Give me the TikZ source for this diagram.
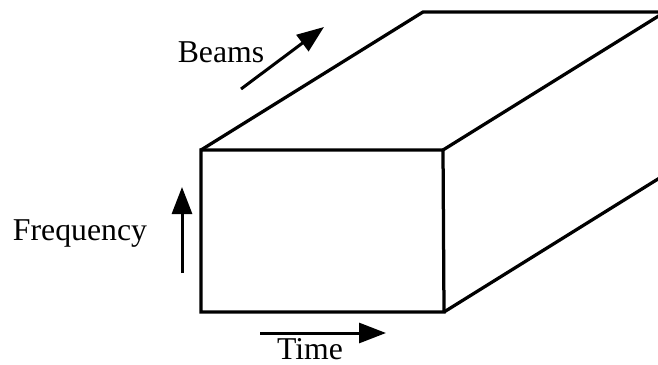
\documentclass[tikz,border=0pt]{standalone}
\usepackage{fontspec}
\setmainfont{Liberation Serif}
\usepackage{tikz}
\usetikzlibrary{arrows.meta, calc}

\begin{document}
\begin{tikzpicture}[
  x=0.4pt, y=-0.4pt,
  edge/.style={line width=1.3pt, line join=miter},
  axis/.style={line width=1.2pt, -{Triangle[length=10.8pt, width=8pt]}},
  lbl/.style={font=\fontsize{12.7}{15}\selectfont, inner sep=0pt, anchor=base}
]
  \useasboundingbox (0,0) rectangle (658,365);

  % --- Box corners ---
  \coordinate (ftl) at (201,150);
  \coordinate (ftr) at (443,150);
  \coordinate (fbr) at (444,312);
  \coordinate (fbl) at (201,312);
  \coordinate (btl) at ($(ftl)+(222,-138)$);
  \coordinate (btr) at ($(ftr)+(222,-138)$);
  \coordinate (bbr) at ($(fbr)+(222,-138)$);

  % --- Box ---
  \begin{scope}
    \clip (0,0) rectangle (658,365);
    \draw[edge] (ftl) -- (ftr) -- (fbr) -- (fbl) -- cycle;
    \draw[edge] (ftl) -- (btl) -- (btr) -- (ftr);
    \draw[edge] (fbr) -- (bbr) -- (btr);
  \end{scope}

  % --- Labels ---
  \node[lbl] (beams) at (221,63) {Beams};
  \node[lbl] (freq) at (80,240) {Frequency};
  \node[lbl] (time) at (310,359) {Time};

  % --- Axis arrows ---
  \coordinate (b0) at (241,89);
  \coordinate (b1) at (324,27);
  \coordinate (f0) at (182,273);
  \coordinate (f1) at (182,187);
  \coordinate (t0) at (260,333);
  \coordinate (t1) at (386,333);
  \draw[axis] (b0) -- (b1);
  \draw[axis] (f0) -- (f1);
  \draw[axis] (t0) -- (t1);

\end{tikzpicture}
\end{document}
